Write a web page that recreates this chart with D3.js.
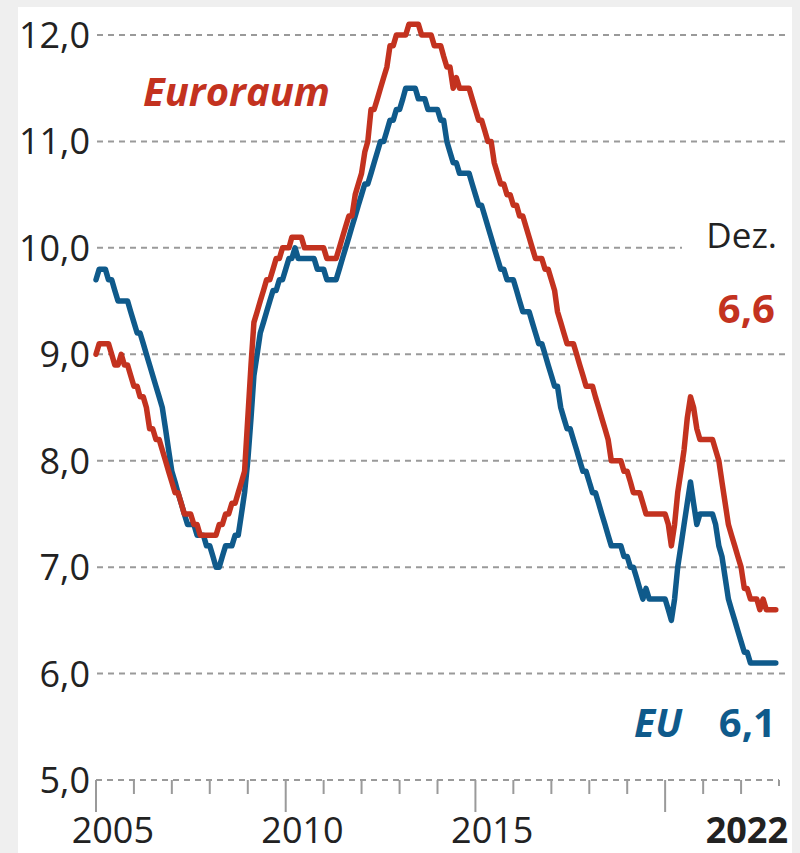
<!DOCTYPE html>
<html>
<head>
<meta charset="utf-8">
<script src="https://cdnjs.cloudflare.com/ajax/libs/d3/7.8.5/d3.min.js"></script>
<style>
  body { margin: 0; background: #efefef; }
  text { font-family: "Open Sans", "Noto Sans", sans-serif; }
</style>
</head>
<body>
<div id="chart"></div>
<script>

// monthly unemployment rate in %, Jan 2005 .. Dec 2022 (one row per year)
var euroraum = [
    9.0, 9.1, 9.1, 9.1, 9.1, 9.0, 8.9, 8.9, 9.0, 8.9, 8.9, 8.8,
    8.7, 8.7, 8.6, 8.6, 8.5, 8.3, 8.3, 8.2, 8.2, 8.1, 8.0, 7.9,
    7.8, 7.7, 7.7, 7.6, 7.5, 7.5, 7.5, 7.4, 7.4, 7.3, 7.3, 7.3,
    7.3, 7.3, 7.3, 7.4, 7.4, 7.5, 7.5, 7.6, 7.6, 7.7, 7.8, 7.9,
    8.4, 8.9, 9.3, 9.4, 9.5, 9.6, 9.7, 9.7, 9.8, 9.9, 9.9, 10.0,
    10.0, 10.0, 10.1, 10.1, 10.1, 10.1, 10.0, 10.0, 10.0, 10.0, 10.0, 10.0,
    10.0, 9.9, 9.9, 9.9, 9.9, 10.0, 10.1, 10.2, 10.3, 10.3, 10.5, 10.6,
    10.7, 10.9, 11.0, 11.3, 11.3, 11.4, 11.5, 11.6, 11.7, 11.9, 11.9, 12.0,
    12.0, 12.0, 12.0, 12.1, 12.1, 12.1, 12.1, 12.0, 12.0, 12.0, 12.0, 11.9,
    11.9, 11.9, 11.8, 11.7, 11.7, 11.5, 11.6, 11.5, 11.5, 11.5, 11.5, 11.4,
    11.3, 11.2, 11.2, 11.1, 11.0, 11.0, 10.8, 10.7, 10.6, 10.6, 10.5, 10.5,
    10.4, 10.4, 10.3, 10.3, 10.2, 10.1, 10.0, 9.9, 9.9, 9.9, 9.8, 9.8,
    9.7, 9.6, 9.4, 9.3, 9.2, 9.1, 9.1, 9.1, 9.0, 8.9, 8.8, 8.7,
    8.7, 8.7, 8.6, 8.5, 8.4, 8.3, 8.2, 8.0, 8.0, 8.0, 8.0, 7.9,
    7.9, 7.8, 7.7, 7.7, 7.7, 7.6, 7.5, 7.5, 7.5, 7.5, 7.5, 7.5,
    7.5, 7.4, 7.2, 7.4, 7.7, 7.9, 8.1, 8.4, 8.6, 8.5, 8.3, 8.2,
    8.2, 8.2, 8.2, 8.2, 8.1, 8.0, 7.8, 7.6, 7.4, 7.3, 7.2, 7.1,
    7.0, 6.8, 6.8, 6.7, 6.7, 6.7, 6.6, 6.7, 6.6, 6.6, 6.6, 6.6
];

var eu = [
    9.7, 9.8, 9.8, 9.8, 9.7, 9.7, 9.6, 9.5, 9.5, 9.5, 9.5, 9.4,
    9.3, 9.2, 9.2, 9.1, 9.0, 8.9, 8.8, 8.7, 8.6, 8.5, 8.3, 8.1,
    7.9, 7.8, 7.7, 7.6, 7.5, 7.4, 7.4, 7.4, 7.3, 7.3, 7.3, 7.2,
    7.2, 7.1, 7.0, 7.0, 7.1, 7.2, 7.2, 7.2, 7.3, 7.3, 7.5, 7.7,
    8.0, 8.4, 8.8, 9.0, 9.2, 9.3, 9.4, 9.5, 9.6, 9.6, 9.7, 9.7,
    9.8, 9.9, 9.9, 10.0, 9.9, 9.9, 9.9, 9.9, 9.9, 9.9, 9.8, 9.8,
    9.8, 9.7, 9.7, 9.7, 9.7, 9.8, 9.9, 10.0, 10.1, 10.2, 10.3, 10.4,
    10.5, 10.6, 10.6, 10.7, 10.8, 10.9, 11.0, 11.0, 11.1, 11.2, 11.2, 11.3,
    11.3, 11.4, 11.5, 11.5, 11.5, 11.5, 11.4, 11.4, 11.4, 11.3, 11.3, 11.3,
    11.3, 11.2, 11.2, 11.0, 10.9, 10.8, 10.8, 10.7, 10.7, 10.7, 10.7, 10.6,
    10.5, 10.4, 10.4, 10.3, 10.2, 10.1, 10.0, 9.9, 9.8, 9.8, 9.7, 9.7,
    9.7, 9.6, 9.5, 9.4, 9.4, 9.4, 9.3, 9.2, 9.1, 9.1, 9.0, 8.9,
    8.8, 8.7, 8.7, 8.5, 8.4, 8.3, 8.3, 8.2, 8.1, 8.0, 7.9, 7.9,
    7.8, 7.7, 7.7, 7.6, 7.5, 7.4, 7.3, 7.2, 7.2, 7.2, 7.2, 7.1,
    7.1, 7.0, 7.0, 6.9, 6.8, 6.7, 6.8, 6.7, 6.7, 6.7, 6.7, 6.7,
    6.7, 6.6, 6.5, 6.7, 7.0, 7.2, 7.4, 7.6, 7.8, 7.6, 7.4, 7.5,
    7.5, 7.5, 7.5, 7.5, 7.4, 7.2, 7.1, 6.9, 6.7, 6.6, 6.5, 6.4,
    6.3, 6.2, 6.2, 6.1, 6.1, 6.1, 6.1, 6.1, 6.1, 6.1, 6.1, 6.1
];

var yTicks = [5, 6, 7, 8, 9, 10, 11, 12];
var xLabels = [2005, 2010, 2015, 2022];
var majorYears = [2005, 2010, 2015, 2020];

var width = 800,
    height = 853;

var red = "#c3321f",
    blue = "#0f5a8b",
    grid = "#9a9a9a";

var svg = d3.select("#chart")
    .append("svg")
    .attr("width", width)
    .attr("height", height);

// white panel on the grey page
svg.append("rect")
    .attr("x", 18)
    .attr("y", 7)
    .attr("width", 774)
    .attr("height", height - 7)
    .attr("fill", "#fff");

var x = d3.scaleTime()
    .domain([new Date(2005, 0, 1), new Date(2023, 0, 1)])
    .range([96, 779]);

var y = d3.scaleLinear()
    .domain([5, 12])
    .range([780, 35]);

function toSeries(values) {
    return values.map(function(v, i) {
        return { date: new Date(2005, i, 1), value: v };
    });
}

var fmt = function(v) { return d3.format(".1f")(v).replace(".", ","); };

// dashed grid lines
svg.selectAll(".grid")
    .data(yTicks.filter(function(d) { return d > 5; }))
    .enter()
    .append("line")
    .attr("class", "grid")
    .attr("x1", 97)
    .attr("x2", function(d) { return d == 10 ? 682 : 785; })
    .attr("y1", function(d) { return y(d); })
    .attr("y2", function(d) { return y(d); })
    .attr("stroke", grid)
    .attr("stroke-width", 2)
    .attr("stroke-dasharray", "6,5");

// baseline with yearly ticks
svg.append("line")
    .attr("x1", x(new Date(2005, 0, 1)))
    .attr("x2", x(new Date(2023, 0, 1)))
    .attr("y1", y(5))
    .attr("y2", y(5))
    .attr("stroke", grid)
    .attr("stroke-width", 2)
    .attr("stroke-dasharray", "6,5");

svg.selectAll(".tick")
    .data(d3.range(2005, 2024))
    .enter()
    .append("line")
    .attr("class", "tick")
    .attr("x1", function(d) { return x(new Date(d, 0, 1)); })
    .attr("x2", function(d) { return x(new Date(d, 0, 1)); })
    .attr("y1", y(5))
    .attr("y2", function(d) {
        return y(5) + (majorYears.indexOf(d) >= 0 ? 32 : (d == 2023 ? 6 : 14));
    })
    .attr("stroke", grid)
    .attr("stroke-width", 2);

// y labels
svg.selectAll(".ylabel")
    .data(yTicks)
    .enter()
    .append("text")
    .attr("class", "ylabel")
    .attr("x", 90)
    .attr("y", function(d) { return y(d); })
    .attr("dy", "0.36em")
    .attr("text-anchor", "end")
    .attr("font-size", "36px")
    .attr("fill", "#222")
    .text(fmt);

// x labels, centred on the middle of the year
svg.selectAll(".xlabel")
    .data(xLabels)
    .enter()
    .append("text")
    .attr("class", "xlabel")
    .attr("x", function(d) {
        return d == 2022 ? 788 : x(new Date(d, 6, 1)) - 2;
    })
    .attr("y", 843)
    .attr("text-anchor", function(d) { return d == 2022 ? "end" : "middle"; })
    .attr("font-size", "36px")
    .attr("font-weight", function(d) { return d == 2022 ? "bold" : "normal"; })
    .attr("fill", "#222")
    .text(function(d) { return d; });

var line = d3.line()
    .x(function(d) { return x(d.date); })
    .y(function(d) { return y(d.value); });

var series = [
    { name: "EU", values: toSeries(eu), color: blue },
    { name: "Euroraum", values: toSeries(euroraum), color: red }
];

svg.selectAll(".series")
    .data(series)
    .enter()
    .append("path")
    .attr("class", "series")
    .attr("d", function(d) { return line(d.values); })
    .attr("fill", "none")
    .attr("stroke", function(d) { return d.color; })
    .attr("stroke-width", 5.5)
    .attr("stroke-linejoin", "round")
    .attr("stroke-linecap", "round");

// annotations
svg.append("text")
    .attr("x", 143)
    .attr("y", 106)
    .attr("font-size", "40px")
    .attr("font-weight", "bold")
    .attr("font-style", "italic")
    .attr("fill", red)
    .text("Euroraum");

svg.append("text")
    .attr("x", 777)
    .attr("y", 248)
    .attr("text-anchor", "end")
    .attr("font-size", "35px")
    .attr("fill", "#222")
    .text("Dez.");

svg.append("text")
    .attr("x", 775)
    .attr("y", 323)
    .attr("text-anchor", "end")
    .attr("font-size", "40px")
    .attr("font-weight", "bold")
    .attr("fill", red)
    .text(fmt(euroraum[euroraum.length - 1]));

svg.append("text")
    .attr("x", 634)
    .attr("y", 737)
    .attr("font-size", "39px")
    .attr("font-weight", "bold")
    .attr("font-style", "italic")
    .attr("fill", blue)
    .text("EU");

svg.append("text")
    .attr("x", 776)
    .attr("y", 737)
    .attr("text-anchor", "end")
    .attr("font-size", "40px")
    .attr("font-weight", "bold")
    .attr("fill", blue)
    .text(fmt(eu[eu.length - 1]));

</script>
</body>
</html>
